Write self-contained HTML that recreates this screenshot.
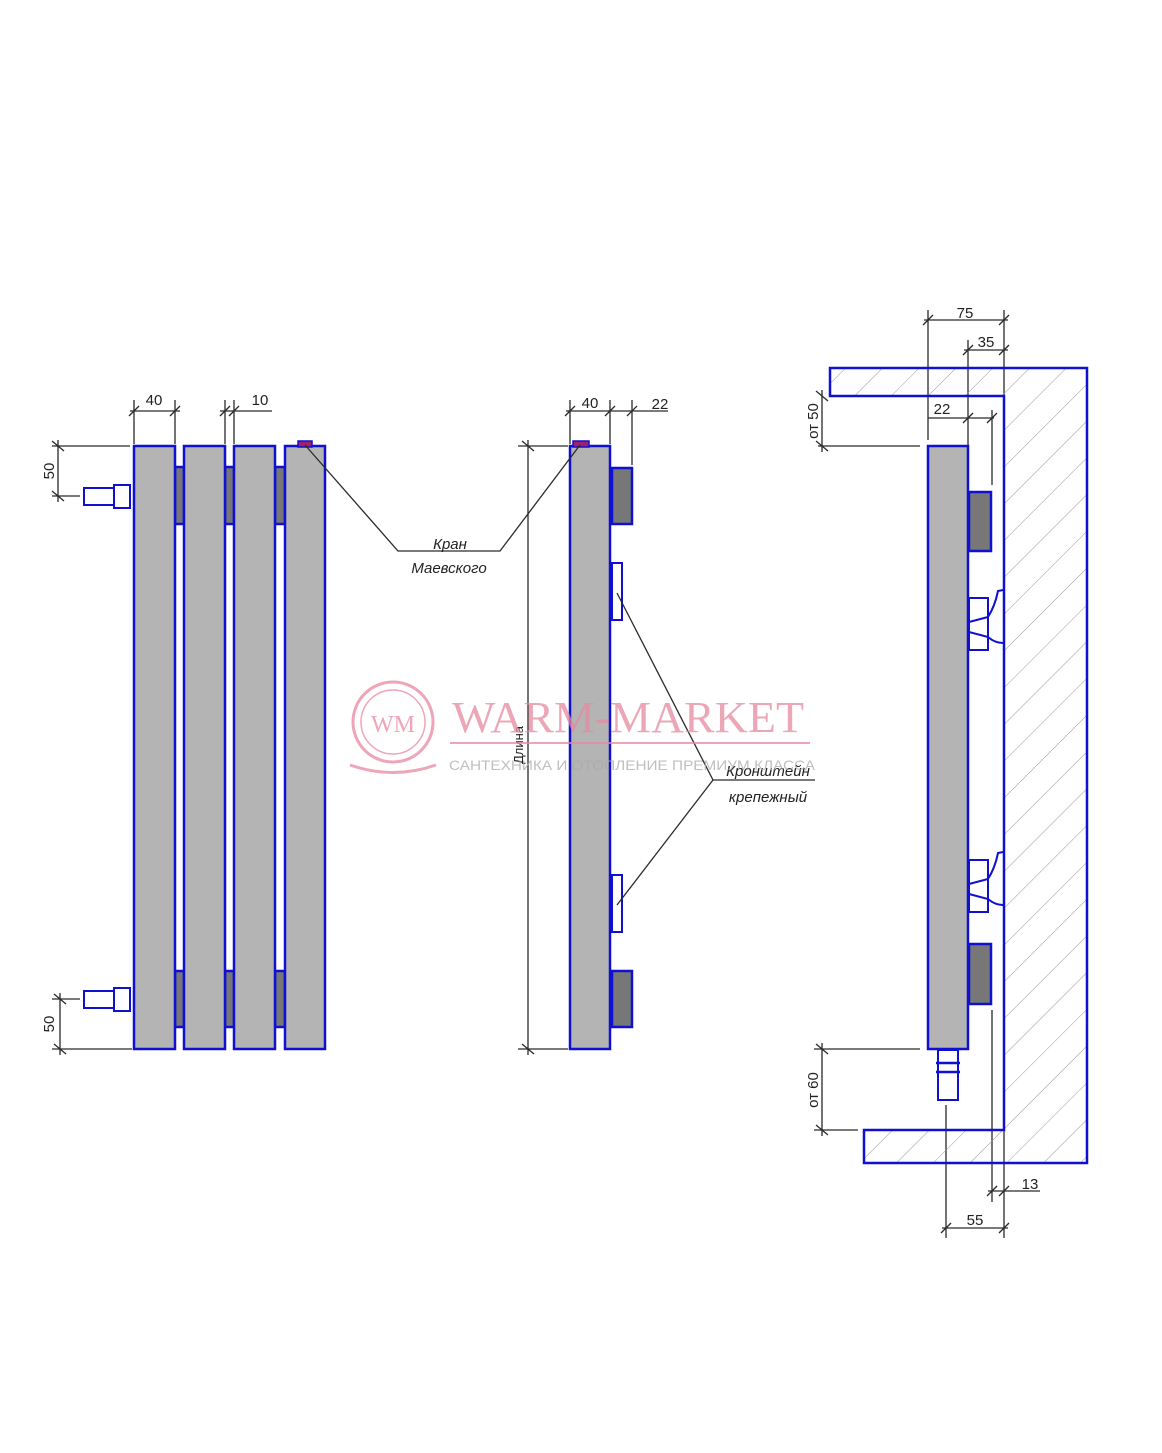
<!DOCTYPE html>
<html><head><meta charset="utf-8"><style>
html,body{margin:0;padding:0;background:#fff}
svg{display:block}
</style></head><body>
<svg width="1162" height="1453" viewBox="0 0 1162 1453" xmlns="http://www.w3.org/2000/svg" font-family="Liberation Sans, DejaVu Sans, sans-serif">
<defs>
<pattern id="h" patternUnits="userSpaceOnUse" width="26" height="26" patternTransform="rotate(45)">
<line x1="0" y1="0" x2="0" y2="26" stroke="#999" stroke-width="1"/>
</pattern>
</defs>
<g stroke="#2a2a2a" stroke-width="1.3" fill="none">
<line x1="134" y1="400" x2="134" y2="444"/><line x1="175" y1="400" x2="175" y2="444"/>
<line x1="130" y1="411" x2="180" y2="411"/>
<line x1="129" y1="416" x2="139" y2="406"/><line x1="170" y1="416" x2="180" y2="406"/>
<line x1="225" y1="400" x2="225" y2="444"/><line x1="234" y1="400" x2="234" y2="444"/>
<line x1="220" y1="411" x2="272" y2="411"/>
<line x1="220" y1="416" x2="230" y2="406"/><line x1="229" y1="416" x2="239" y2="406"/>
<line x1="52" y1="446" x2="130" y2="446"/><line x1="52" y1="496" x2="80" y2="496"/>
<line x1="58" y1="440" x2="58" y2="502"/>
<line x1="52" y1="441" x2="64" y2="451"/><line x1="52" y1="491" x2="64" y2="501"/>
<line x1="52" y1="999" x2="80" y2="999"/><line x1="52" y1="1049" x2="132" y2="1049"/>
<line x1="60" y1="993" x2="60" y2="1055"/>
<line x1="54" y1="994" x2="66" y2="1004"/><line x1="54" y1="1044" x2="66" y2="1054"/>
<line x1="518" y1="446" x2="568" y2="446"/><line x1="518" y1="1049" x2="568" y2="1049"/>
<line x1="528" y1="440" x2="528" y2="1055"/>
<line x1="522" y1="441" x2="534" y2="451"/><line x1="522" y1="1044" x2="534" y2="1054"/>
<line x1="570" y1="400" x2="570" y2="444"/><line x1="610" y1="400" x2="610" y2="444"/><line x1="632" y1="400" x2="632" y2="465"/>
<line x1="566" y1="411" x2="668" y2="411"/>
<line x1="565" y1="416" x2="575" y2="406"/><line x1="605" y1="416" x2="615" y2="406"/><line x1="627" y1="416" x2="637" y2="406"/>
<line x1="928" y1="310" x2="928" y2="440"/><line x1="1004" y1="310" x2="1004" y2="396"/>
<line x1="924" y1="320" x2="1008" y2="320"/>
<line x1="923" y1="325" x2="933" y2="315"/><line x1="999" y1="325" x2="1009" y2="315"/>
<line x1="968" y1="340" x2="968" y2="446"/>
<line x1="964" y1="350" x2="1008" y2="350"/>
<line x1="963" y1="355" x2="973" y2="345"/><line x1="999" y1="355" x2="1009" y2="345"/>
<line x1="928" y1="418" x2="994" y2="418"/><line x1="992" y1="410" x2="992" y2="485"/>
<line x1="963" y1="423" x2="973" y2="413"/><line x1="987" y1="423" x2="997" y2="413"/>
<line x1="818" y1="446" x2="920" y2="446"/>
<line x1="822" y1="390" x2="822" y2="452"/>
<line x1="816" y1="391" x2="828" y2="401"/><line x1="816" y1="441" x2="828" y2="451"/>
<line x1="814" y1="1049" x2="920" y2="1049"/><line x1="814" y1="1130" x2="858" y2="1130"/>
<line x1="822" y1="1043" x2="822" y2="1136"/>
<line x1="816" y1="1044" x2="828" y2="1054"/><line x1="816" y1="1125" x2="828" y2="1135"/>
<line x1="992" y1="1010" x2="992" y2="1202"/><line x1="1004" y1="1130" x2="1004" y2="1238"/><line x1="946" y1="1105" x2="946" y2="1238"/>
<line x1="988" y1="1191" x2="1040" y2="1191"/>
<line x1="987" y1="1196" x2="997" y2="1186"/><line x1="999" y1="1196" x2="1009" y2="1186"/>
<line x1="942" y1="1228" x2="1008" y2="1228"/>
<line x1="941" y1="1233" x2="951" y2="1223"/><line x1="999" y1="1233" x2="1009" y2="1223"/>
</g>
<polygon points="830,368 1087,368 1087,1163 864,1163 864,1130 1004,1130 1004,396 830,396" fill="url(#h)" stroke="#1010d0" stroke-width="2.5"/>
<g stroke="#1010d0" stroke-width="2.5">
<rect x="175" y="467" width="9" height="57" fill="#777"/><rect x="225" y="467" width="9" height="57" fill="#777"/><rect x="275" y="467" width="10" height="57" fill="#777"/>
<rect x="175" y="971" width="9" height="56" fill="#777"/><rect x="225" y="971" width="9" height="56" fill="#777"/><rect x="275" y="971" width="10" height="56" fill="#777"/>
<rect x="134" y="446" width="41" height="603" fill="#b4b4b4"/>
<rect x="184" y="446" width="41" height="603" fill="#b4b4b4"/>
<rect x="234" y="446" width="41" height="603" fill="#b4b4b4"/>
<rect x="285" y="446" width="40" height="603" fill="#b4b4b4"/>
<rect x="84" y="488" width="30" height="17" fill="#fff" stroke-width="2"/>
<rect x="114" y="485" width="16" height="23" fill="#fff" stroke-width="2"/>
<rect x="84" y="991" width="30" height="17" fill="#fff" stroke-width="2"/>
<rect x="114" y="988" width="16" height="23" fill="#fff" stroke-width="2"/>
<rect x="298" y="441" width="14" height="6" fill="#a0206a" stroke-width="1.5"/>
<rect x="570" y="446" width="40" height="603" fill="#b4b4b4"/>
<rect x="612" y="468" width="20" height="56" fill="#777"/>
<rect x="612" y="971" width="20" height="56" fill="#777"/>
<rect x="612" y="563" width="10" height="57" fill="#fff" stroke-width="2"/>
<rect x="612" y="875" width="10" height="57" fill="#fff" stroke-width="2"/>
<rect x="573" y="441" width="16" height="6" fill="#a0206a" stroke-width="1.5"/>
<rect x="928" y="446" width="40" height="603" fill="#b4b4b4"/>
<rect x="969" y="492" width="22" height="59" fill="#777"/>
<rect x="969" y="944" width="22" height="60" fill="#777"/>
<rect x="938" y="1050" width="20" height="50" fill="#fff" stroke-width="2"/>
<line x1="936" y1="1063" x2="960" y2="1063"/><line x1="936" y1="1072" x2="960" y2="1072"/>
<g fill="none" stroke-width="2">
<rect x="969" y="598" width="19" height="52" fill="#fff"/>
<path d="M969,622 L988,617 Q995,606 998,591 L1003,590 M969,632 L988,637 Q995,643 1003,643"/>
<rect x="969" y="860" width="19" height="52" fill="#fff"/>
<path d="M969,884 L988,879 Q995,868 998,853 L1003,852 M969,894 L988,899 Q995,905 1003,905"/>
</g>
</g>
<g stroke="#2a2a2a" stroke-width="1.3" fill="none">
<polyline points="305,445 398,551 500,551 580,445"/>
<line x1="617" y1="593" x2="713" y2="780"/><line x1="617" y1="905" x2="713" y2="780"/>
<line x1="713" y1="780" x2="815" y2="780"/>
</g>
<g fill="#222" font-size="15">
<text x="154" y="405" text-anchor="middle">40</text>
<text x="260" y="405" text-anchor="middle">10</text>
<text transform="translate(54,471) rotate(-90)" text-anchor="middle">50</text>
<text transform="translate(54,1024) rotate(-90)" text-anchor="middle">50</text>
<text x="590" y="408" text-anchor="middle">40</text>
<text x="660" y="409" text-anchor="middle">22</text>
<text x="965" y="318" text-anchor="middle">75</text>
<text x="986" y="347" text-anchor="middle">35</text>
<text x="942" y="414" text-anchor="middle">22</text>
<text x="1030" y="1189" text-anchor="middle">13</text>
<text x="975" y="1225" text-anchor="middle">55</text>
<text transform="translate(818,421) rotate(-90)" text-anchor="middle">от 50</text>
<text transform="translate(818,1090) rotate(-90)" text-anchor="middle">от 60</text>
<text transform="translate(523,745) rotate(-90)" text-anchor="middle" font-size="13">Длина</text>
<text x="450" y="549" text-anchor="middle" font-style="italic">Кран</text>
<text x="449" y="573" text-anchor="middle" font-style="italic">Маевского</text>
<text x="768" y="776" text-anchor="middle" font-style="italic">Кронштейн</text>
<text x="768" y="802" text-anchor="middle" font-style="italic">крепежный</text>
</g>
<g opacity="0.75">
<circle cx="393" cy="722" r="40" fill="none" stroke="#e8879f" stroke-width="3"/>
<circle cx="393" cy="722" r="32" fill="none" stroke="#e8879f" stroke-width="1.5"/>
<text x="393" y="732" text-anchor="middle" font-family="Liberation Serif, serif" font-size="24" fill="#e8879f">WM</text>
<path d="M350,765 Q393,780 436,765" fill="none" stroke="#e8879f" stroke-width="3"/>
<text x="628" y="732" text-anchor="middle" font-family="Liberation Serif, serif" font-size="44" fill="#e68aa0" textLength="352" lengthAdjust="spacingAndGlyphs">WARM-MARKET</text>
<line x1="450" y1="743" x2="810" y2="743" stroke="#e8879f" stroke-width="2"/>
<text x="632" y="770" text-anchor="middle" font-size="14" fill="#aaa" textLength="366" lengthAdjust="spacingAndGlyphs">САНТЕХНИКА И ОТОПЛЕНИЕ ПРЕМИУМ КЛАССА</text>
</g>
</svg>
</body></html>
